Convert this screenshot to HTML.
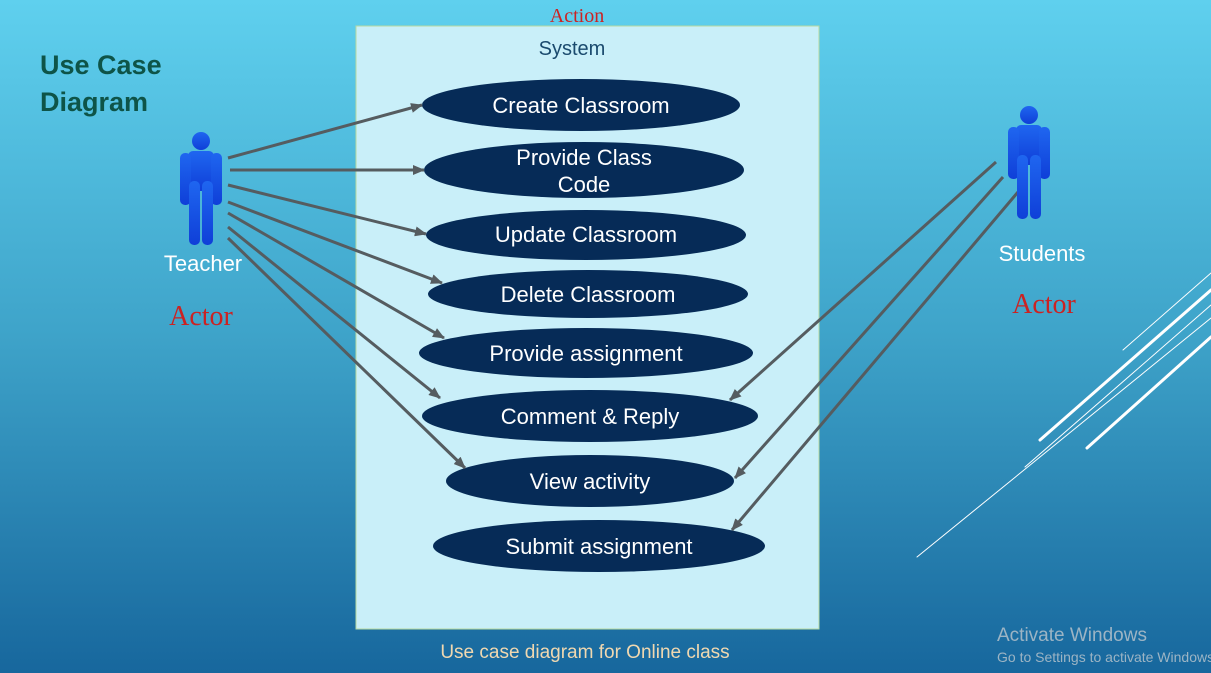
<!DOCTYPE html>
<html><head><meta charset="utf-8"><style>
html,body{margin:0;padding:0;width:1211px;height:673px;overflow:hidden}
svg{display:block}
</style></head><body>
<svg width="1211" height="673" viewBox="0 0 1211 673" xmlns="http://www.w3.org/2000/svg">
<defs>
<linearGradient id="bg" x1="0" y1="0" x2="0" y2="1">
<stop offset="0" stop-color="#5fd0ee"/><stop offset="0.5" stop-color="#3ea3c9"/><stop offset="1" stop-color="#17679d"/>
</linearGradient>
<linearGradient id="fig" x1="0" y1="0" x2="0" y2="1">
<stop offset="0" stop-color="#1f66f0"/><stop offset="1" stop-color="#0f3fd8"/>
</linearGradient>
<marker id="ar" markerWidth="12" markerHeight="10" refX="11" refY="5" orient="auto" markerUnits="userSpaceOnUse">
<path d="M0,0 L12,5 L0,10 Z" fill="#555c60"/>
</marker>
<g id="person">
<circle cx="21" cy="10" r="9"/>
<rect x="8" y="20" width="26" height="40" rx="5"/>
<rect x="0" y="22" width="11" height="52" rx="5"/>
<rect x="31" y="22" width="11" height="52" rx="5"/>
<rect x="9" y="50" width="11" height="64" rx="5"/>
<rect x="22" y="50" width="11" height="64" rx="5"/>
</g>
</defs>
<rect width="1211" height="673" fill="url(#bg)"/>
<g stroke="#fff" stroke-linecap="round">
<line x1="1123" y1="350" x2="1211" y2="273" stroke-width="1"/>
<line x1="1040" y1="440" x2="1211" y2="290" stroke-width="3"/>
<line x1="1025" y1="467" x2="1211" y2="305" stroke-width="1"/>
<line x1="917" y1="557" x2="1211" y2="318" stroke-width="1"/>
<line x1="1087" y1="448" x2="1211" y2="337" stroke-width="3"/>
</g>
<rect x="356" y="26" width="463" height="603" fill="#c9eff9" stroke="#b8d8a0" stroke-width="1"/>
<text x="572" y="55" font-family="Liberation Sans, sans-serif" font-size="20" fill="#1a4a6e" text-anchor="middle">System</text>
<text x="577" y="22" font-family="Liberation Serif, serif" font-size="20" fill="#cc2222" text-anchor="middle">Action</text>
<text x="40" y="74" font-family="Liberation Sans, sans-serif" font-size="27" font-weight="bold" fill="#0e5448">Use Case</text>
<text x="40" y="111" font-family="Liberation Sans, sans-serif" font-size="27" font-weight="bold" fill="#0e5448">Diagram</text>
<g fill="#062b57">
<ellipse cx="581" cy="105" rx="159" ry="26"/>
<ellipse cx="584" cy="170" rx="160" ry="28"/>
<ellipse cx="586" cy="235" rx="160" ry="25"/>
<ellipse cx="588" cy="294" rx="160" ry="24"/>
<ellipse cx="586" cy="353" rx="167" ry="25"/>
<ellipse cx="590" cy="416" rx="168" ry="26"/>
<ellipse cx="590" cy="481" rx="144" ry="26"/>
<ellipse cx="599" cy="546" rx="166" ry="26"/>
</g>
<g font-family="Liberation Sans, sans-serif" font-size="22" fill="#fff" text-anchor="middle">
<text x="581" y="113">Create Classroom</text>
<text x="584" y="165">Provide Class</text>
<text x="584" y="192">Code</text>
<text x="586" y="242">Update Classroom</text>
<text x="588" y="302">Delete Classroom</text>
<text x="586" y="361">Provide assignment</text>
<text x="590" y="424">Comment &amp; Reply</text>
<text x="590" y="489">View activity</text>
<text x="599" y="554">Submit assignment</text>
</g>
<g stroke="#555c60" stroke-width="3" marker-end="url(#ar)">
<line x1="228" y1="158" x2="422" y2="105"/>
<line x1="230" y1="170" x2="424" y2="170"/>
<line x1="228" y1="185" x2="426" y2="234"/>
<line x1="228" y1="202" x2="442" y2="283"/>
<line x1="228" y1="213" x2="444" y2="338"/>
<line x1="228" y1="227" x2="440" y2="398"/>
<line x1="228" y1="238" x2="465" y2="468"/>
<line x1="996" y1="162" x2="730" y2="400"/>
<line x1="1003" y1="177" x2="735" y2="478"/>
<line x1="1018" y1="192" x2="732" y2="530"/>
</g>
<use href="#person" x="180" y="131" fill="url(#fig)"/>
<use href="#person" x="1008" y="105" fill="url(#fig)"/>
<text x="203" y="271" font-family="Liberation Sans, sans-serif" font-size="22" fill="#fff" text-anchor="middle">Teacher</text>
<text x="1042" y="261" font-family="Liberation Sans, sans-serif" font-size="22" fill="#fff" text-anchor="middle">Students</text>
<text x="201" y="325" font-family="Liberation Serif, serif" font-size="28" fill="#cc2222" text-anchor="middle">Actor</text>
<text x="1044" y="313" font-family="Liberation Serif, serif" font-size="28" fill="#cc2222" text-anchor="middle">Actor</text>
<text x="585" y="658" font-family="Liberation Sans, sans-serif" font-size="19" fill="#f0d8b0" text-anchor="middle">Use case diagram for Online class</text>
<text x="997" y="641" font-family="Liberation Sans, sans-serif" font-size="19" fill="#9cb4c4">Activate Windows</text>
<text x="997" y="662" font-family="Liberation Sans, sans-serif" font-size="14" fill="#9cb4c4">Go to Settings to activate Windows.</text>
</svg>
</body></html>
